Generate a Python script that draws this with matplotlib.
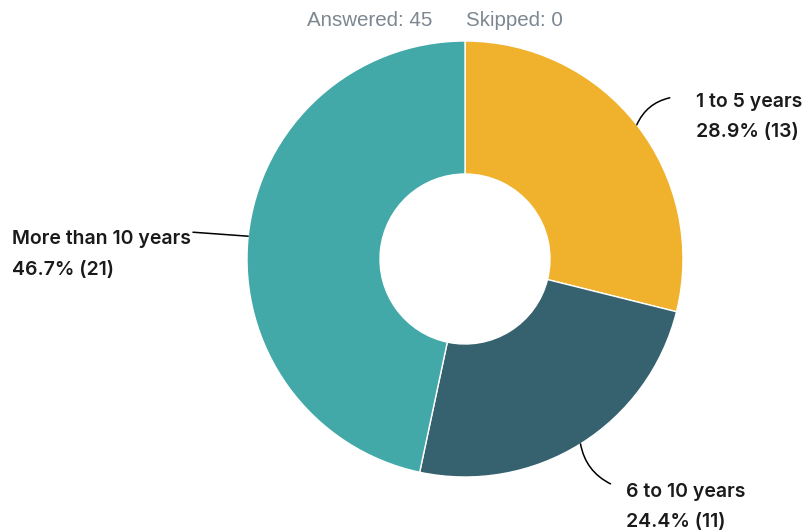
import numpy as np
import matplotlib
matplotlib.use("Agg")
import matplotlib.pyplot as plt

# data
labels = ["1 to 5 years", "6 to 10 years", "More than 10 years"]
counts = [13, 11, 21]
percents = ["28.9%", "24.4%", "46.7%"]
colors = ["#F0B12C", "#36616E", "#43A8A8"]
answered = 45
skipped = 0

W, H = 806, 531
fig = plt.figure(figsize=(W / 100, H / 100), dpi=100)
ax = fig.add_axes([0, 0, 1, 1])

cx, cy, r = 465, 272, 218
hole = 85

wedges, _ = ax.pie(counts, colors=colors, startangle=90, counterclock=False,
                   radius=r, center=(cx, cy), frame=True,
                   wedgeprops=dict(width=r - hole, edgecolor="white", linewidth=1))
ax.set_xlim(0, W)
ax.set_ylim(0, H)
ax.set_aspect("equal")
ax.axis("off")

label_font = dict(family=["Inter", "DejaVu Sans"], fontweight="semibold",
                  fontsize=14, color="#1a1a1a")
line_kw = dict(arrowstyle="-", color="black", lw=1.1, shrinkA=0, shrinkB=0)

for i, w in enumerate(wedges):
    ang = np.deg2rad((w.theta1 + w.theta2) / 2)
    ex, ey = cx + r * np.cos(ang), cy + r * np.sin(ang)
    txt = f"{labels[i]}\n{percents[i]} ({counts[i]})"
    if np.cos(ang) > 0 and np.sin(ang) > 0:
        tx, ty = ex + 59, ey + 32
        end, rad = (ex + 33, ey + 27), 0.25
    elif np.cos(ang) > 0:
        tx, ty = ex + 45, ey - 39
        end, rad = (ex + 30, ey - 40), -0.25
    else:
        tx, ty = 12, ey + 6
        end, rad = (193, ey + 4), 0.0
    ax.annotate("", xy=(ex, ey), xytext=end,
                arrowprops=dict(connectionstyle=f"arc3,rad={rad}", **line_kw))
    ax.text(tx, ty, txt, ha="left", va="top", linespacing=1.9, **label_font)

ax.text(432, H - 20, f"Answered: {answered}", ha="right", va="center",
        fontsize=14.8, color="#7D8790", family="Liberation Sans")
ax.text(466, H - 20, f"Skipped: {skipped}", ha="left", va="center",
        fontsize=14.8, color="#7D8790", family="Liberation Sans")

fig.savefig("out.png", dpi=100)
